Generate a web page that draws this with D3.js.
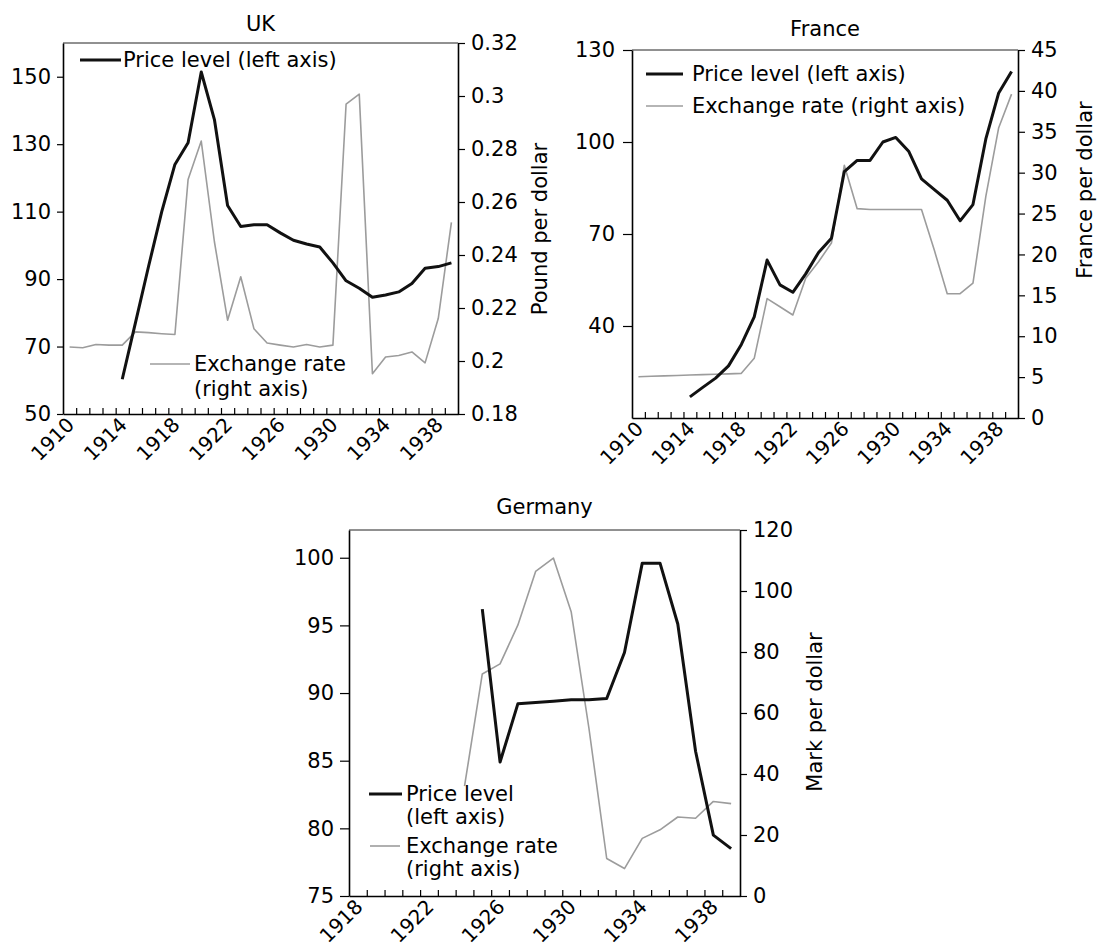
<!DOCTYPE html>
<html>
<head>
<meta charset="utf-8">
<script src="https://cdn.jsdelivr.net/npm/d3@7"></script>
<style>
  body { margin: 0; background: #fff; }
  svg { font-family: "DejaVu Sans", sans-serif; }
</style>
</head>
<body>
<svg class="chart" width="1102" height="948"></svg>
<script>
// ---- data ----
const ukYears = [1910, 1911, 1912, 1913, 1914, 1915, 1916, 1917, 1918, 1919, 1920, 1921, 1922, 1923, 1924,
                 1925, 1926, 1927, 1928, 1929, 1930, 1931, 1932, 1933, 1934, 1935, 1936, 1937, 1938, 1939];
const ukPrice = [null, null, null, null, 60.3, 77, 93.8, 110, 124, 130.4, 151.4, 137.3, 111.8, 105.6, 106.1,
                 106.1, 103.7, 101.5, 100.4, 99.5, 94.8, 89.5, 87.3, 84.6, 85.3, 86.2, 88.7, 93.2, 93.7, 94.8];
const ukRate = [0.2053, 0.205, 0.2062, 0.206, 0.206, 0.211, 0.2107, 0.2103, 0.21, 0.2685, 0.283, 0.245, 0.2154, 0.2318, 0.2122,
                0.2068, 0.206, 0.2053, 0.2062, 0.2053, 0.206, 0.2969, 0.3007, 0.1952, 0.2015, 0.2021, 0.2034, 0.1993, 0.216, 0.2523];

const frYears = [1910, 1911, 1912, 1913, 1914, 1915, 1916, 1917, 1918, 1919, 1920, 1921, 1922, 1923, 1924,
                 1925, 1926, 1927, 1928, 1929, 1930, 1931, 1932, 1933, 1934, 1935, 1936, 1937, 1938, 1939];
const frPrice = [null, null, null, null, 16.9, 20, 23, 27, 34, 43, 61.5, 53.4, 51, 57, 64,
                 68.6, 90.3, 94, 94, 100, 101.5, 97, 88, 84.5, 81, 74.3, 79.6, 101, 116, 123];
const frRate = [5.05, 5.1, 5.15, 5.2, 5.25, 5.3, 5.35, 5.4, 5.46, 7.3, 14.6, 13.6, 12.6, 17.1, 19.1,
                21.4, 30.9, 25.6, 25.5, 25.5, 25.5, 25.5, 25.5, 20.5, 15.2, 15.2, 16.5, 27.1, 35.5, 39.6];

const deYears = [1918, 1919, 1920, 1921, 1922, 1923, 1924, 1925, 1926, 1927, 1928,
                 1929, 1930, 1931, 1932, 1933, 1934, 1935, 1936, 1937, 1938, 1939];
const dePrice = [null, null, null, null, null, null, null, 96.2, 84.9, 89.2, 89.3,
                 89.4, 89.5, 89.5, 89.6, 93.0, 99.6, 99.6, 95.1, 85.7, 79.5, 78.5];
const deRate = [null, null, null, null, null, null, 36, 72.8, 76.1, 88.8, 106.4,
                110.8, 93.2, 55, 12.3, 9.0, 18.9, 21.7, 25.9, 25.5, 31.0, 30.3];

const labelYears = [1910, 1914, 1918, 1922, 1926, 1930, 1934, 1938];

const svg = d3.select(".chart");
const FS = 21;  // font size for titles, legends, y tick labels
const FSX = 20; // rotated year labels

const panels = [
  {
    title: "UK", years: ukYears, price: ukPrice, rate: ukRate,
    x0: 63, x1: 458, y0: 43, y1: 414,
    leftDomain: [50, 160], leftTicks: [50, 70, 90, 110, 130, 150],
    rightDomain: [0.18, 0.32], rightTicks: [0.18, 0.2, 0.22, 0.24, 0.26, 0.28, 0.3, 0.32],
    rightFmt: d => String(+d.toFixed(2)),
    tickL: 6, padL: 6, tickR: 7, padR: 6,
    rightTitle: "Pound per dollar", rightTitleX: 547, rightTitleY: 229,
    titleY: 31,
    legend: [
      { kind: "price", x1: 80, x2: 121, y: 60, tx: 123, gap: 0, lines: ["Price level (left axis)"] },
      { kind: "rate", x1: 150, x2: 190, y: 364, tx: 194, gap: 25, lines: ["Exchange rate", "(right axis)"] }
    ]
  },
  {
    title: "France", years: frYears, price: frPrice, rate: frRate,
    x0: 632, x1: 1018, y0: 50, y1: 418,
    leftDomain: [10, 130], leftTicks: [40, 70, 100, 130],
    rightDomain: [0, 45], rightTicks: [0, 5, 10, 15, 20, 25, 30, 35, 40, 45],
    rightFmt: d => String(d),
    tickL: 9, padL: 8, tickR: 7, padR: 6,
    rightTitle: "France per dollar", rightTitleX: 1092, rightTitleY: 190,
    titleY: 36,
    legend: [
      { kind: "price", x1: 646, x2: 683, y: 74, tx: 692, gap: 0, lines: ["Price level (left axis)"] },
      { kind: "rate", x1: 646, x2: 683, y: 106, tx: 692, gap: 0, lines: ["Exchange rate (right axis)"] }
    ]
  },
  {
    title: "Germany", years: deYears, price: dePrice, rate: deRate,
    x0: 349, x1: 740, y0: 530, y1: 896,
    leftDomain: [75, 102.05], leftTicks: [75, 80, 85, 90, 95, 100],
    rightDomain: [0, 120], rightTicks: [0, 20, 40, 60, 80, 100, 120],
    rightFmt: d => String(d),
    tickL: 9, padL: 6, tickR: 7, padR: 6,
    rightTitle: "Mark per dollar", rightTitleX: 822, rightTitleY: 712,
    titleY: 514,
    legend: [
      { kind: "price", x1: 369, x2: 402, y: 794, tx: 406, gap: 23, lines: ["Price level", "(left axis)"] },
      { kind: "rate", x1: 370, x2: 400, y: 846, tx: 406, gap: 23, lines: ["Exchange rate", "(right axis)"] }
    ]
  }
];

const styles = {
  price: { stroke: "#111", width: 3 },
  rate: { stroke: "#9c9c9c", width: 1.6 }
};

panels.forEach(drawPanel);

function drawPanel(p) {
  const g = svg.append("g").attr("class", "panel");

  const x = d3.scaleBand().domain(p.years).range([p.x0, p.x1]);
  const xEdges = d3.scaleLinear()
    .domain([p.years[0], p.years[p.years.length - 1] + 1])
    .range([p.x0, p.x1]);
  const yL = d3.scaleLinear().domain(p.leftDomain).range([p.y1, p.y0]);
  const yR = d3.scaleLinear().domain(p.rightDomain).range([p.y1, p.y0]);

  // top frame line
  g.append("line")
    .attr("x1", p.x0).attr("x2", p.x1)
    .attr("y1", p.y0).attr("y2", p.y0)
    .attr("stroke", "#222").attr("stroke-width", 1);

  // title
  g.append("text")
    .attr("x", (p.x0 + p.x1) / 2).attr("y", p.titleY)
    .attr("text-anchor", "middle")
    .attr("font-size", FS)
    .text(p.title);

  // small inner tick marks at every year boundary
  g.append("g")
    .attr("class", "x-ticks")
    .attr("transform", `translate(0,${p.y1})`)
    .call(d3.axisBottom(xEdges).tickValues(p.years.slice(1)).tickSize(-6).tickSizeOuter(0).tickFormat(""));

  // rotated year labels
  const xa = g.append("g")
    .attr("class", "x-labels")
    .attr("transform", `translate(0,${p.y1})`)
    .call(d3.axisBottom(x).tickValues(labelYears.filter(d => p.years.includes(d))).tickSize(0));
  xa.select(".domain").remove();
  xa.selectAll("text")
    .attr("x", 0).attr("y", 0).attr("dy", 0)
    .attr("text-anchor", "end")
    .attr("font-size", FSX)
    .attr("transform", "translate(6,12) rotate(-45)");

  // left axis
  g.append("g")
    .attr("class", "y-left")
    .attr("transform", `translate(${p.x0},0)`)
    .call(d3.axisLeft(yL).tickValues(p.leftTicks).tickSize(p.tickL).tickPadding(p.padL).tickSizeOuter(0));

  // right axis
  g.append("g")
    .attr("class", "y-right")
    .attr("transform", `translate(${p.x1},0)`)
    .call(d3.axisRight(yR).tickValues(p.rightTicks).tickFormat(p.rightFmt)
      .tickSize(p.tickR).tickPadding(p.padR).tickSizeOuter(0));

  g.selectAll(".domain").attr("stroke", "#000").attr("stroke-width", 1.6);
  g.selectAll(".tick line").attr("stroke", "#000").attr("stroke-width", 1.2);
  g.selectAll(".tick text").attr("fill", "#000");
  g.selectAll(".x-ticks, .x-labels, .y-left, .y-right")
    .attr("font-size", FS).attr("font-family", "DejaVu Sans, sans-serif");

  // right axis title
  g.append("text")
    .attr("transform", `translate(${p.rightTitleX},${p.rightTitleY}) rotate(-90)`)
    .attr("text-anchor", "middle")
    .attr("font-size", FS)
    .text(p.rightTitle);

  const cx = d => x(d) + x.bandwidth() / 2;

  const rateLine = d3.line()
    .defined(d => d.v != null)
    .x(d => cx(d.year))
    .y(d => yR(d.v));
  const priceLine = d3.line()
    .defined(d => d.v != null)
    .x(d => cx(d.year))
    .y(d => yL(d.v));

  g.append("path")
    .datum(p.years.map((year, i) => ({ year, v: p.rate[i] })))
    .attr("d", rateLine)
    .attr("fill", "none")
    .attr("stroke", styles.rate.stroke)
    .attr("stroke-width", styles.rate.width)
    .attr("stroke-linejoin", "round");

  g.append("path")
    .datum(p.years.map((year, i) => ({ year, v: p.price[i] })))
    .attr("d", priceLine)
    .attr("fill", "none")
    .attr("stroke", styles.price.stroke)
    .attr("stroke-width", styles.price.width)
    .attr("stroke-linejoin", "round");

  // legend
  p.legend.forEach(item => {
    const s = styles[item.kind];
    g.append("line")
      .attr("x1", item.x1).attr("x2", item.x2)
      .attr("y1", item.y).attr("y2", item.y)
      .attr("stroke", s.stroke).attr("stroke-width", s.width);
    const t = g.append("text")
      .attr("x", item.tx).attr("y", item.y + 7)
      .attr("font-size", FS);
    item.lines.forEach((line, k) => {
      t.append("tspan").attr("x", item.tx).attr("dy", k === 0 ? 0 : item.gap).text(line);
    });
  });
}
</script>
</body>
</html>
